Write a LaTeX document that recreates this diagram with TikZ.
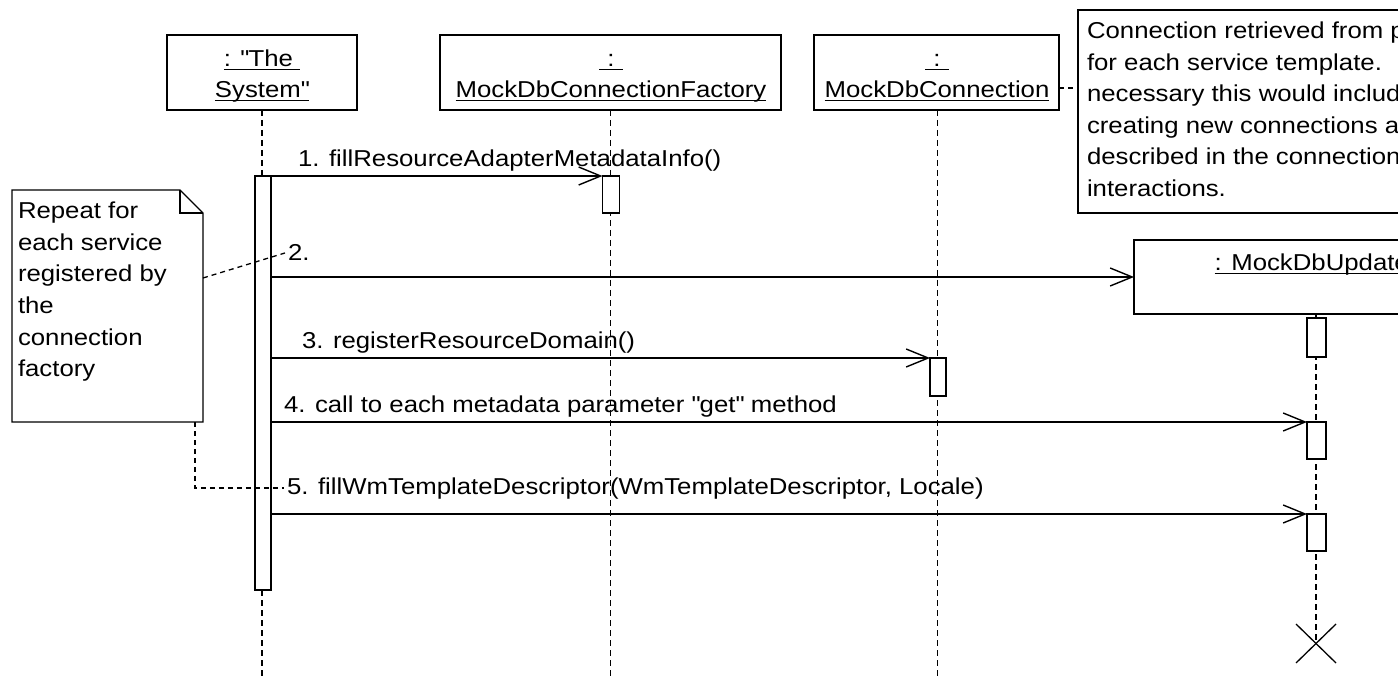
\documentclass[tikz,border=0pt]{standalone}
\usepackage{fontspec}
\setmainfont{Liberation Sans}[FakeStretch=1.12]
\usetikzlibrary{arrows.meta,calc}
% underlined text with the rule a little below the baseline
\newcommand\undr[1]{\setbox0\hbox{#1}\rlap{\rule[-3pt]{\wd0}{1.2pt}}\box0}
\newcommand\qq{\textquotedbl}

\begin{document}
\begin{tikzpicture}[x=1pt,y=-1pt,
  font=\fontsize{23}{31.5}\selectfont,
  every node/.style={inner sep=0pt, outer sep=0pt},
  objbox/.style={draw, line width=1.3pt, fill=white, rectangle},
  actbar/.style={draw, line width=1.3pt, fill=white, rectangle},
  lifeline/.style={line width=1.5pt, dash pattern=on 6pt off 4pt},
  msg/.style={line width=1.4pt, -{Straight Barb[length=22pt,width=18pt]}},
  notelink/.style={line width=1.3pt, dash pattern=on 5pt off 4pt},
  txt/.style={anchor=base west},
  ctxt/.style={anchor=base},
]
\useasboundingbox (0,0) rectangle (1398,679);
\clip (0,0) rectangle (1398,679);

% object boxes
\node[objbox, minimum width=190pt, minimum height=75pt] (sys)  at (262,72.5) {};
\node[objbox, minimum width=341pt, minimum height=75pt] (fact) at (610.5,72.5) {};
\node[objbox, minimum width=245pt, minimum height=75pt] (conn) at (936.5,72.5) {};
\node[objbox, minimum width=364pt, minimum height=74pt] (upd)  at (1316,277) {};

\node[ctxt] (sysA)  at (262,67) {\undr{: \qq The\ }};
\node[ctxt] (sysB)  at (262,98) {\undr{System\qq}};
\node[ctxt] (factA) at (611,67) {\undr{\hspace{8pt}:\hspace{8pt}}};
\node[ctxt] (factB) at (611,98) {\undr{MockDbConnectionFactory}};
\node[ctxt] (connA) at (937,67) {\undr{\hspace{8pt}:\hspace{8pt}}};
\node[ctxt] (connB) at (937,98) {\undr{MockDbConnection}};
\node[ctxt] (updA)  at (1316,271) {\undr{: MockDbUpdater}};

% end of the updater's life
\coordinate (xend) at (1316,643);

% lifelines
\draw[lifeline] (sys.south) -- (sys.south |- 0,679);
\draw[lifeline] (fact.south) -- (fact.south |- 0,679);
\draw[lifeline] ([xshift=1pt]conn.south) -- ([xshift=1pt]conn.south |- 0,679);
\draw[lifeline] (upd.south) -- (xend);

% activation bars
\node[actbar, minimum width=16pt, minimum height=414pt] (sysact)  at (263,383) {};
\node[actbar, minimum width=17pt, minimum height=37pt]  (factact) at (611,194.5) {};
\node[actbar, minimum width=16pt, minimum height=38pt]  (connact) at (938,377) {};
\node[actbar, minimum width=19pt, minimum height=39pt]  (upd1)    at (1316.5,337.5) {};
\node[actbar, minimum width=19pt, minimum height=37pt]  (upd2)    at (1316.5,440.5) {};
\node[actbar, minimum width=19pt, minimum height=37pt]  (upd3)    at (1316.5,532.5) {};

% destruction mark
\draw[line width=1.3pt] ($(xend)+(-20,-19)$) -- ($(xend)+(20,20)$);
\draw[line width=1.3pt] ($(xend)+(20,-19)$) -- ($(xend)+(-20,20)$);

% messages
\draw[msg] (sysact.north east) -- (factact.north west);
\draw[msg] (sysact.east |- upd.west) -- (upd.west);
\draw[msg] (sysact.east |- connact.north) -- (connact.north west);
\draw[msg] (sysact.east |- upd2.north) -- (upd2.north west);
\draw[msg] (sysact.east |- upd3.north) -- (upd3.north west);

\node[txt] (m1) at (298,167) {1. fillResourceAdapterMetadataInfo()};
\node[txt] (m2) at (288,261) {2.};
\node[txt] (m3) at (302,348) {3. registerResourceDomain()};
\node[txt] (m4) at (284,412) {4. call to each metadata parameter \qq get\qq\ method};
\node[txt] (m5) at (287,494) {5. fillWmTemplateDescriptor(WmTemplateDescriptor, Locale)};

% note on the left, with its folded corner
\node[minimum width=191pt, minimum height=232pt] (lnote) at (107.5,306) {};
\draw[line width=1.3pt, fill=white]
  (lnote.north west) -- ($(lnote.north east)+(-23,0)$) -- ($(lnote.north east)+(0,23)$)
  -- (lnote.south east) -- (lnote.south west) -- cycle;
\draw[line width=1.3pt]
  ($(lnote.north east)+(-23,0)$) -- ($(lnote.north east)+(-23,23)$) -- ($(lnote.north east)+(0,23)$);
\foreach \t [count=\i] in {Repeat for, each service, registered by, the, connection, factory}
  \node[txt] (ln\i) at (18,{219+31.5*(\i-1)}) {\t};

% note on the right
\node[objbox, minimum width=372pt, minimum height=203pt] (rnote) at (1264,111.5) {};
\foreach \t [count=\i] in {Connection retrieved from pool, for each service template., necessary this would include, creating new connections as, described in the connection, interactions.}
  \node[txt] (rn\i) at (1087,{39+31.5*(\i-1)}) {\t};

% note links
\draw[notelink] (lnote.east |- 0,278) -- ($(m2.west)+(-3,0)$);
\draw[notelink] ($(lnote.south east)+(-8,0)$) |- ($(m5.west)+(-3,0)$);
\draw[notelink] (conn.east |- 0,88) -- (rnote.west |- 0,88);
\end{tikzpicture}
\end{document}
